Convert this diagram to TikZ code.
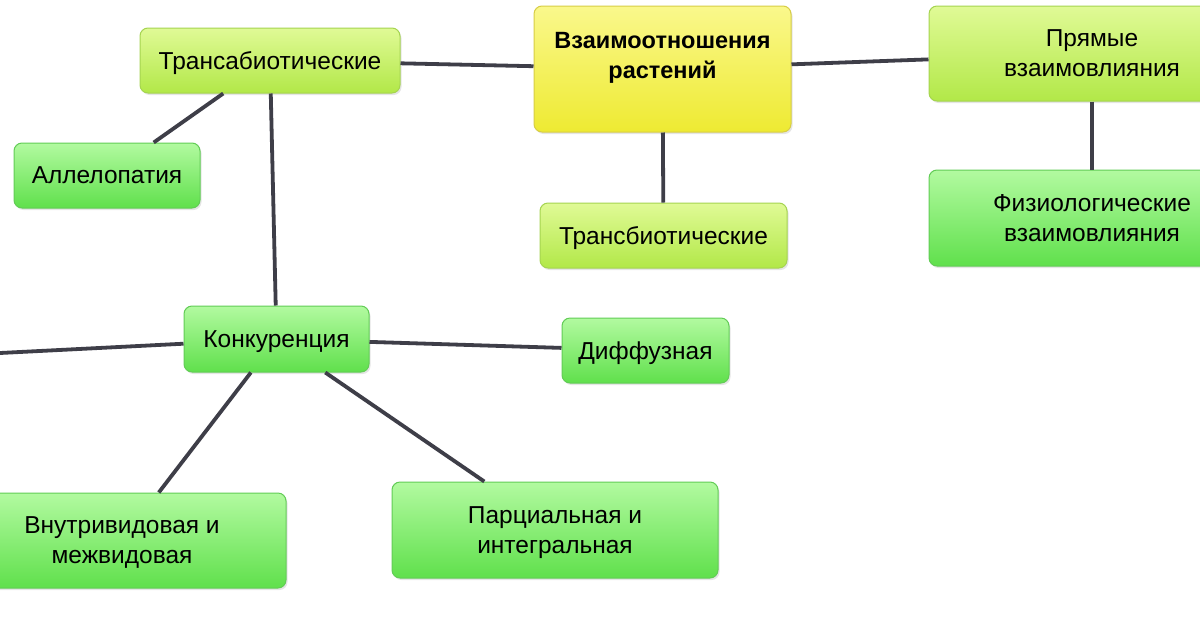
\documentclass[tikz,border=0pt]{standalone}
\usepackage{fontspec}
\setmainfont{Liberation Sans}
\usetikzlibrary{positioning,shadows}

\definecolor{linkgray}{RGB}{62,62,72}
\definecolor{coretop}{RGB}{250,248,140}
\definecolor{corebot}{RGB}{238,234,50}
\definecolor{coreline}{RGB}{215,205,70}
\definecolor{limetop}{RGB}{224,250,150}
\definecolor{limebot}{RGB}{178,232,72}
\definecolor{limeline}{RGB}{165,212,80}
\definecolor{leaftop}{RGB}{178,250,160}
\definecolor{leafbot}{RGB}{96,224,76}
\definecolor{leafline}{RGB}{98,204,86}

\begin{document}
\begin{tikzpicture}[
  x=1pt,y=-1pt,
  link/.style={draw=linkgray,line width=3.8pt},
  core/.style={draw=coreline,top color=coretop,bottom color=corebot,rounded corners=8pt,
    line width=1pt,align=center,font=\bfseries\fontsize{23.5}{30}\selectfont,
    drop shadow={shadow xshift=1.5pt,shadow yshift=-2pt,opacity=.2}},
  lime/.style={draw=limeline,top color=limetop,bottom color=limebot,rounded corners=8pt,
    line width=1pt,align=center,font=\fontsize{24.5}{30}\selectfont,text depth=0pt,
    drop shadow={shadow xshift=1.5pt,shadow yshift=-2pt,opacity=.2}},
  leaf/.style={draw=leafline,top color=leaftop,bottom color=leafbot,rounded corners=8pt,
    line width=1pt,align=center,font=\fontsize{24.5}{30}\selectfont,text depth=0pt,
    drop shadow={shadow xshift=1.5pt,shadow yshift=-2pt,opacity=.2}}]

\path[use as bounding box,fill=white] (0,0) rectangle (1200,630);
\clip (0,0) rectangle (1200,630);

\node[core,minimum width=257pt,minimum height=126pt,text depth=28pt] (relations) at (662.5,69)
  {Взаимоотношения\\растений};

\node[lime,minimum width=260pt,minimum height=65pt] (transabio) at (270,60.5)
  {Трансабиотические};
\node[lime,minimum width=326pt,minimum height=95pt] (direct) at (1092,53.5)
  {Прямые\\взаимовлияния};
\node[lime,minimum width=247pt,minimum height=65pt] (transbio) at (663.5,235.5)
  {Трансбиотические};

\node[leaf,minimum width=326pt,minimum height=96pt] (physio) at (1092,218)
  {Физиологические\\взаимовлияния};
\node[leaf,minimum width=186pt,minimum height=65pt] (allelo) at (107,175.5)
  {Аллелопатия};
\node[leaf,minimum width=185pt,minimum height=66pt] (compet) at (276.5,339)
  {Конкуренция};
\node[leaf,minimum width=167pt,minimum height=65pt] (diffuse) at (645.5,350.5)
  {Диффузная};
\node[leaf,minimum width=328pt,minimum height=95pt] (intra) at (122,540.5)
  {Внутривидовая и\\межвидовая};
\node[leaf,minimum width=326pt,minimum height=96pt] (partial) at (555,530)
  {Парциальная и\\интегральная};

\coordinate (offleft) at (0,353);

\draw[link] (relations) -- (transabio);
\draw[link] (relations) -- (direct);
\draw[link] (relations) -- (transbio);
\draw[link] (direct) -- (physio);
\draw[link] (transabio) -- (allelo);
\draw[link] (transabio) -- (compet);
\draw[link] (compet) -- (offleft);
\draw[link] (compet) -- (diffuse);
\draw[link] (compet) -- (intra);
\draw[link] (compet) -- (partial);
\end{tikzpicture}
\end{document}
